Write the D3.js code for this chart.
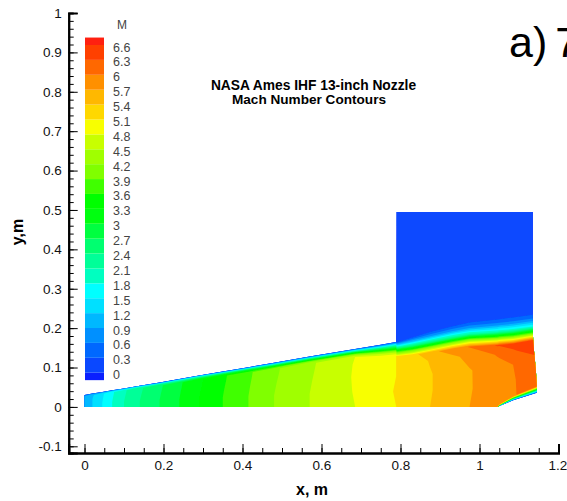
<!DOCTYPE html>
<html>
<head>
<meta charset="utf-8">
<script src="https://cdn.jsdelivr.net/npm/d3@7"></script>
<style>
  body { margin: 0; padding: 0; background: #fff; overflow: hidden; }
  svg { display: block; font-family: "Liberation Sans", sans-serif; }
</style>
</head>
<body>
<div id="chart"></div>
<script>
// tick labels
var xTicks = [0, 0.2, 0.4, 0.6, 0.8, 1, 1.2];
var yTicks = [-0.1, 0, 0.1, 0.2, 0.3, 0.4, 0.5, 0.6, 0.7, 0.8, 0.9, 1];

// contour levels and the colour of each band, lowest first
var levels = [0, 0.3, 0.6, 0.9, 1.2, 1.5, 1.8, 2.1, 2.4, 2.7, 3, 3.3, 3.6, 3.9, 4.2, 4.5, 4.8, 5.1, 5.4, 5.7, 6, 6.3, 6.6];
var bandColors = ["#0a20ff", "#0a48ff", "#0068ff", "#0090ff", "#00b8ff", "#00e0ff", "#00ffff", "#00ffc0", "#00ff98", "#00ff70", "#00ff40", "#00ff10",
  "#00ff00", "#40ff00", "#80ff00", "#a0ff00", "#c8ff00", "#f8ff00", "#ffd800", "#ffb800", "#ff9000", "#ff6800", "#ff4000", "#ff2010"];

// stations along the nozzle
var stationX = [0, 0.02, 0.045, 0.07, 0.1, 0.14, 0.19, 0.24, 0.29, 0.35, 0.415, 0.48, 0.57, 0.685, 0.75, 0.789, 0.79, 0.83, 0.875, 0.93, 0.975, 1.045, 1.05, 1.085, 1.14];
var edgeY = [0.03, 0.034, 0.038, 0.042, 0.047, 0.054, 0.062, 0.071, 0.08, 0.09, 0.101, 0.112, 0.128, 0.147, 0.158, 0.165, 0.165, 0.178, 0.193, 0.207, 0.218, 0.226, 0.227, 0.232, 0.239];
var layerH = [0.004, 0.004, 0.005, 0.005, 0.006, 0.007, 0.008, 0.01, 0.011, 0.012, 0.014, 0.016, 0.018, 0.02, 0.03, 0.036, 0.036, 0.046, 0.055, 0.06, 0.065, 0.07, 0.07, 0.072, 0.07];
var floorY = [0, 0, 0, 0, 0, 0, 0, 0, 0, 0, 0, 0, 0, 0, 0, 0, 0, 0, 0, 0, 0, 0, 0.002, 0.017, 0.036];
var cowlH = [0.001, 0.001, 0.001, 0.001, 0.001, 0.001, 0.001, 0.001, 0.001, 0.001, 0.001, 0.001, 0.001, 0.001, 0.001, 0.001, 0.001, 0.001, 0.001, 0.001, 0.001, 0.002, 0.004, 0.01, 0.016];
var exitX = [1.145, 1.145, 1.143, 1.14, 1.137, 1.136, 1.135, 1.135, 1.135, 1.135, 1.135];
var plumeTop = 0.495;

// Mach number at each station, one list per row, floor to plume top
var machFloor = [1.05, 1.2, 1.5, 1.8, 2.1, 2.4, 2.7, 3, 3.3, 3.6, 3.9, 4.2, 4.5, 4.8, 5, 5.1, 5.1, 5.27, 5.4, 5.56, 5.7, 5.85, 0.3, 0.3, 0.3];
var machCowl = [1.05, 1.2, 1.5, 1.8, 2.1, 2.4, 2.7, 3, 3.3, 3.6, 3.9, 4.2, 4.5, 4.8, 5, 5.1, 5.1, 5.27, 5.4, 5.56, 5.7, 5.86, 5.88, 5.98, 6.12];
var machCoreA = [1.05, 1.2, 1.5, 1.8, 2.1, 2.4, 2.7, 3, 3.3, 3.6, 3.9, 4.2, 4.5, 4.82, 5.02, 5.12, 5.12, 5.26, 5.38, 5.55, 5.68, 5.86, 5.87, 5.98, 6.15];
var machCoreB = [1.05, 1.2, 1.48, 1.78, 2.08, 2.38, 2.68, 2.98, 3.28, 3.58, 3.88, 4.18, 4.48, 4.83, 5, 5.1, 5.1, 5.22, 5.38, 5.55, 5.68, 5.88, 5.89, 6, 6.2];
var machCoreC = [1.02, 1.18, 1.46, 1.76, 2.06, 2.36, 2.66, 2.96, 3.26, 3.56, 3.86, 4.16, 4.46, 4.82, 4.98, 5.1, 5.1, 5.25, 5.42, 5.62, 5.8, 6.02, 6.04, 6.25, 6.5];
var machCoreTop = [1, 1.15, 1.45, 1.75, 2.05, 2.35, 2.65, 2.95, 3.25, 3.55, 3.85, 4.15, 4.45, 4.8, 4.95, 5.1, 5.1, 5.3, 5.6, 5.85, 6.02, 6.33, 6.33, 6.4, 6.4];
var machLayerA = [0.9, 1.05, 1.3, 1.6, 1.9, 2.2, 2.45, 2.7, 3, 3.3, 3.5, 3.8, 4.1, 4.3, 4.4, 4.5, 4, 4, 4.1, 4.2, 4.3, 4.2, 4.2, 4.1, 4];
var machLayerB = [0.8, 0.95, 1.15, 1.4, 1.6, 1.9, 2.1, 2.3, 2.5, 2.7, 2.9, 3.1, 3.3, 3.4, 3.4, 3.4, 2.8, 2.5, 2.3, 2.2, 2.1, 2, 2, 1.9, 1.8];
var machLayerC = [0.6, 0.7, 0.9, 1, 1.2, 1.3, 1.4, 1.6, 1.7, 1.8, 1.9, 2, 2.1, 2.1, 2.1, 2.1, 1.4, 1.1, 0.9, 0.9, 0.8, 0.75, 0.75, 0.7, 0.7];
var machEdge = [0.3, 0.3, 0.3, 0.3, 0.3, 0.3, 0.3, 0.3, 0.3, 0.3, 0.3, 0.3, 0.3, 0.3, 0.3, 0.3, 0.15, 0.15, 0.15, 0.15, 0.15, 0.15, 0.15, 0.15, 0.15];
var machPlume = [0.3, 0.3, 0.3, 0.3, 0.3, 0.3, 0.3, 0.3, 0.3, 0.3, 0.3, 0.3, 0.3, 0.3, 0.3, 0.3, 0.15, 0.15, 0.15, 0.15, 0.15, 0.15, 0.15, 0.15, 0.15];

var machRows = [machFloor, machCowl, machCoreA, machCoreB, machCoreC, machCoreTop, machLayerA, machLayerB, machLayerC, machEdge, machPlume];
var coreFrac = [0.3, 0.6, 0.85];
var layerFrac = [0.25, 0.5, 0.75];

var width = 567, height = 501;

var svg = d3.select("#chart").append("svg")
  .attr("width", width)
  .attr("height", height);

// reference is a resampled raster, a touch of blur takes the facets off the bands
svg.append("defs").append("filter").attr("id", "soften")
  .append("feGaussianBlur").attr("stdDeviation", 0.6);

var x = d3.scaleLinear().domain([-0.04, 1.2]).range([68.7, 558.5]);
var y = d3.scaleLinear().domain([-0.117, 1]).range([453, 13]);

// physical height of row j at station i
function rowY(i, j) {
  var cowlTop = floorY[i] + cowlH[i];
  var coreTop = edgeY[i] - layerH[i];
  if (j == 0) return floorY[i];
  if (j == 1) return cowlTop;
  if (j <= 4) return cowlTop + coreFrac[j - 2] * (coreTop - cowlTop);
  if (j == 5) return coreTop;
  if (j <= 8) return coreTop + layerFrac[j - 6] * layerH[i];
  if (j == 9) return edgeY[i];
  return stationX[i] >= 0.79 ? plumeTop : edgeY[i];
}
function rowX(i, j) {
  return i == stationX.length - 1 ? exitX[j] : stationX[i];
}

var nx = stationX.length, ny = machRows.length;
var values = [];
machRows.forEach(function(row) { row.forEach(function(m) { values.push(m); }); });

// contours come back in grid index space, bilinear map puts them on the nozzle
var toPixels = d3.geoTransform({
  point: function(gx, gy) {
    var u = Math.max(0, Math.min(nx - 1, gx - 0.5));
    var v = Math.max(0, Math.min(ny - 1, gy - 0.5));
    var i = Math.min(nx - 2, Math.floor(u)), j = Math.min(ny - 2, Math.floor(v));
    var a = u - i, b = v - j;
    var px = (1 - a) * (1 - b) * rowX(i, j) + a * (1 - b) * rowX(i + 1, j) + (1 - a) * b * rowX(i, j + 1) + a * b * rowX(i + 1, j + 1);
    var py = (1 - a) * (1 - b) * rowY(i, j) + a * (1 - b) * rowY(i + 1, j) + (1 - a) * b * rowY(i, j + 1) + a * b * rowY(i + 1, j + 1);
    this.stream.point(x(px), y(py));
  }
});

var thresholds = [-1].concat(levels);
var bands = d3.contours().size([nx, ny]).thresholds(thresholds)(values);

svg.append("g").attr("class", "field")
  .attr("filter", "url(#soften)")
  .selectAll("path")
  .data(bands)
  .enter()
  .append("path")
  .attr("d", d3.geoPath(toPixels))
  .attr("fill", function(d, i) { return bandColors[i]; });

// axes, ticks point inward
var yAxis = d3.axisLeft(y).tickValues(yTicks).tickSize(-9).tickPadding(7).tickFormat(String);
var yMinor = d3.axisLeft(y).tickValues(d3.range(-5, 51).map(function(d) { return d * 0.02; })).tickSize(-5).tickFormat("");
var xAxis = d3.axisBottom(x).tickValues(xTicks).tickSize(-9).tickPadding(7).tickFormat(String);
var xMinor = d3.axisBottom(x).tickValues(d3.range(0, 25).map(function(d) { return d * 0.05; })).tickSize(-5).tickFormat("");

function styleAxis(g) {
  g.selectAll("text").attr("font-size", 13.5).attr("fill", "#111").attr("font-family", "Liberation Sans");
  g.selectAll("line").attr("stroke", "#000").attr("stroke-width", 1);
  g.selectAll(".domain").attr("stroke", "#000").attr("stroke-width", 2);
}

svg.append("g").attr("transform", "translate(68.7,0)").call(yMinor).call(styleAxis);
svg.append("g").attr("transform", "translate(68.7,0)").call(yAxis).call(styleAxis);
svg.append("g").attr("transform", "translate(0,453)").call(xMinor).call(styleAxis);
svg.append("g").attr("transform", "translate(0,453)").call(xAxis).call(styleAxis)
  .selectAll("text").filter(function(d) { return d == 1.2; }).attr("dx", -1);

// axis titles
svg.append("text").attr("x", 312).attr("y", 495)
  .attr("text-anchor", "middle").attr("font-size", 16).attr("font-weight", "bold")
  .text("x, m");
svg.append("text").attr("transform", "translate(23,232) rotate(-90)")
  .attr("text-anchor", "middle").attr("font-size", 16).attr("font-weight", "bold")
  .text("y,m");

// colour legend
var legendY = d3.scaleLinear().domain([0, 6.6]).range([372.7, 45]);
var bandEdges = [-0.15].concat(levels, [6.75]);

svg.append("g").selectAll("rect")
  .data(bandColors)
  .enter()
  .append("rect")
  .attr("x", 85)
  .attr("width", 19)
  .attr("y", function(d, i) { return legendY(bandEdges[i + 1]); })
  .attr("height", function(d, i) { return legendY(bandEdges[i]) - legendY(bandEdges[i + 1]); })
  .attr("fill", function(d) { return d; });

svg.append("g").selectAll("text")
  .data(levels)
  .enter()
  .append("text")
  .attr("x", 113)
  .attr("y", function(d) { return legendY(d) + 6.5; })
  .attr("font-size", 12.5)
  .attr("fill", "#444")
  .text(String);

svg.append("text").attr("x", 122).attr("y", 29)
  .attr("text-anchor", "middle").attr("font-size", 12).attr("fill", "#444")
  .text("M");

// titles
svg.append("text").attr("x", 313.5).attr("y", 90)
  .attr("text-anchor", "middle").attr("font-size", 13.8).attr("font-weight", "bold")
  .text("NASA Ames IHF 13-inch Nozzle");
svg.append("text").attr("x", 309).attr("y", 104)
  .attr("text-anchor", "middle").attr("font-size", 13.6).attr("font-weight", "bold")
  .text("Mach Number Contours");

svg.append("text").attr("x", 509).attr("y", 57)
  .attr("font-size", 43)
  .attr("word-spacing", -4)
  .text("a) 7");
</script>
</body>
</html>
